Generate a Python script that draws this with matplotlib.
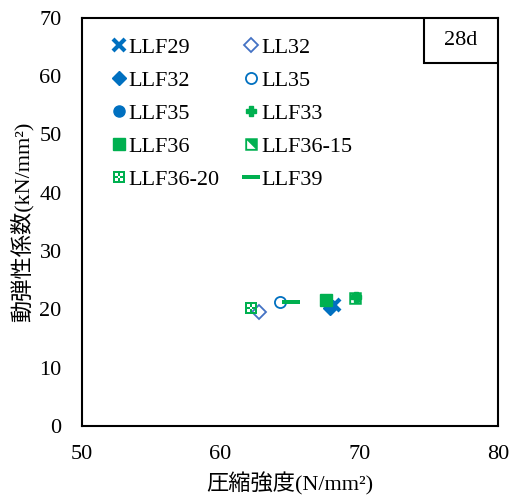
import numpy as np
import matplotlib.pyplot as plt
from matplotlib.path import Path
from matplotlib.patches import Rectangle

plt.rcParams['font.family'] = ['Liberation Serif', 'Noto Sans CJK JP']

# 28d results: compressive strength vs dynamic modulus
names = ['LLF29', 'LL32', 'LLF32', 'LL35', 'LLF35',
         'LLF33', 'LLF36', 'LLF36-15', 'LLF36-20', 'LLF39']
strength = [68.2, 62.8, 67.9, 64.3, 67.9, 69.8, 67.6, 69.7, 62.2, 65.1]
modulus = [20.8, 19.6, 20.2, 21.3, 20.8, 22.1, 21.6, 21.9, 20.2, 21.3]

blue = '#0070C0'
blue2 = '#4472C4'
green = '#00B050'

# square with a white lower-left half
half_sq = Path([(-1, -1), (1, -1), (1, 1), (-1, 1), (-1, -1),
                (-0.7, -0.7), (-0.7, 0.65), (0.65, -0.7), (-0.7, -0.7)],
               [1, 2, 2, 2, 79, 1, 2, 2, 79])

# square with small white holes
verts = [(-1, -1), (1, -1), (1, 1), (-1, 1), (-1, -1)]
codes = [1, 2, 2, 2, 79]
for cx, cy in [(-0.4, 0.4), (0.4, 0.4), (-0.4, -0.4), (0.4, -0.4), (0, 0)]:
    s = 0.2
    verts += [(cx - s, cy - s), (cx - s, cy + s), (cx + s, cy + s), (cx + s, cy - s), (cx - s, cy - s)]
    codes += [1, 2, 2, 2, 79]
dot_sq = Path(verts, codes)

dash = Path([(-1, -0.25), (1, -0.25), (1, 0.25), (-1, 0.25), (-1, -0.25)],
            [1, 2, 2, 2, 79])

styles = [
    dict(marker='x', color=blue, ms=8, mew=3),
    dict(marker='D', mfc='white', mec=blue2, color=blue2, ms=7, mew=1.3),
    dict(marker='D', color=blue, ms=7),
    dict(marker='o', mfc='white', mec=blue, color=blue, ms=8, mew=1.3),
    dict(marker='o', color=blue, ms=8),
    dict(marker='P', color=green, ms=7),
    dict(marker='s', color=green, ms=8.5),
    dict(marker=half_sq, color=green, ms=9, mew=0),
    dict(marker=dot_sq, color=green, ms=9, mew=0),
    dict(marker=dash, color=green, ms=13, mew=0),
]

fig = plt.figure(figsize=(5.18, 4.97), dpi=100)
ax = fig.add_axes([0.158, 0.143, 0.803, 0.821])

handles = []
for n, x, y, st in zip(names, strength, modulus, styles):
    h, = ax.plot([x], [y], linestyle='none', label=n, **st)
    handles.append(h)

ax.set_xlim(50, 80)
ax.set_ylim(0, 70)
ax.set_xticks([50, 60, 70, 80])
ax.set_yticks(np.arange(0, 71, 10))
ax.tick_params(labelsize=16, length=0)
ax.tick_params(axis='x', pad=14)
ax.tick_params(axis='y', pad=14.5)
for s in ax.spines.values():
    s.set_linewidth(1.5)

ax.set_xlabel('圧縮強度(N/mm²)', fontsize=16, labelpad=6)
ax.set_ylabel('動弾性係数(kN/mm²)', fontsize=16, labelpad=4)

# legend laid out row by row
order = [0, 2, 4, 6, 8, 1, 3, 5, 7, 9]
ax.legend([handles[i] for i in order], [names[i] for i in order],
          ncol=2, frameon=False, fontsize=16, loc='upper left',
          bbox_to_anchor=(0.046, 0.975), handlelength=0.8, handletextpad=0.05,
          labelspacing=0.565, columnspacing=1.0, borderaxespad=0)

# age label box in the upper right corner
ax.add_patch(Rectangle((0.822, 0.89), 0.178, 0.11, transform=ax.transAxes,
                       fc='white', ec='black', lw=1.5, zorder=5))
ax.text(0.911, 0.945, '28d', transform=ax.transAxes, fontsize=16,
        ha='center', va='center', zorder=6)

fig.savefig('out.png', dpi=100)
